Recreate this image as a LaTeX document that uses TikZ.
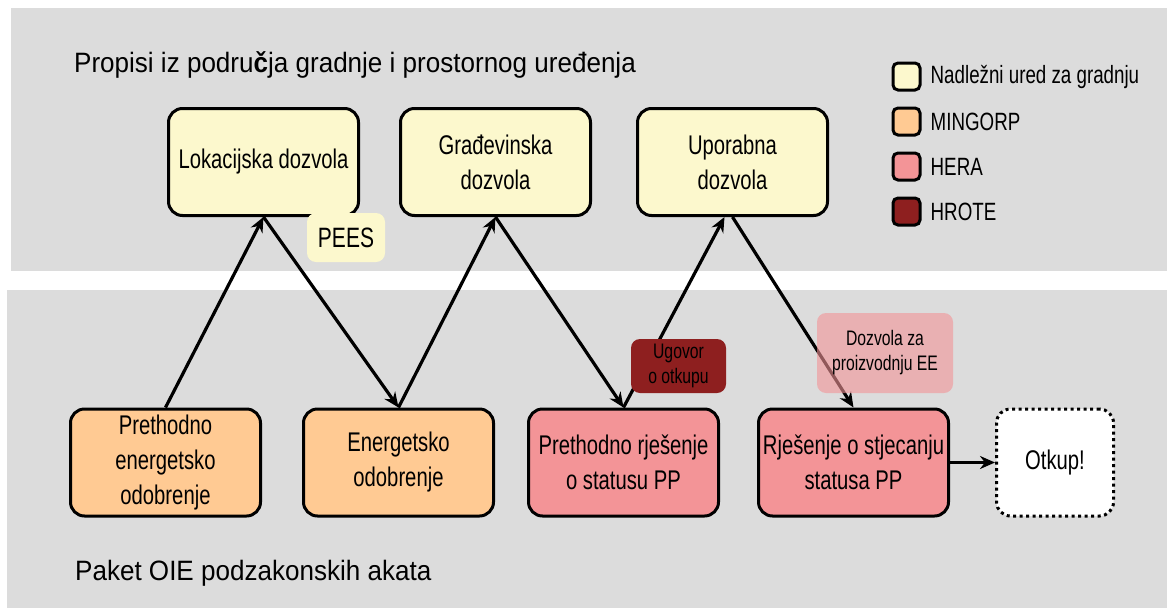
\documentclass[tikz,border=0pt]{standalone}
\usepackage{fontspec}
\setmainfont{Liberation Sans}
\newfontfamily\narrowsf[FakeStretch=0.75]{Liberation Sans}
\newfontfamily\titlesf[FakeStretch=0.93]{Liberation Sans}
\usetikzlibrary{positioning,arrows.meta}
\definecolor{bandgray}{HTML}{DCDCDC}
\definecolor{uredyellow}{HTML}{FCF8CD}
\definecolor{mingorp}{HTML}{FFCA93}
\definecolor{hera}{HTML}{F39497}
\definecolor{hrote}{HTML}{8E1F1F}

\begin{document}
\begin{tikzpicture}[x=1pt,y=-1pt,
  b/.style={draw=black,line width=3pt,rounded corners=14pt,minimum width=190pt,
            minimum height=107pt,align=center,inner sep=2pt,
            font=\narrowsf\fontsize{27}{35}\selectfont},
  tag/.style={rounded corners=9pt,align=center,inner sep=0pt,
              font=\narrowsf\fontsize{21}{25}\selectfont},
  lg/.style={draw=black,line width=3pt,rounded corners=5pt,minimum size=27pt,inner sep=0pt},
  lgt/.style={anchor=west,inner sep=0pt,font=\narrowsf\fontsize{25}{30}\selectfont},
  a/.style={-{Stealth[length=15pt,width=13pt]},line width=3.2pt}]
\useasboundingbox (0,0) rectangle (1167,608);
\fill[bandgray] (11,8) rectangle (1167,271);
\fill[bandgray] (7,290) rectangle (1167,608);
\node[anchor=base west,inner sep=0pt,font=\titlesf\fontsize{28}{34}\selectfont] (topttl) at (74,72)
  {Propisi iz podru\textbf{č}ja gradnje i prostornog uređenja};
\node[anchor=base west,inner sep=0pt,font=\titlesf\fontsize{28}{34}\selectfont] (botttl) at (75,580)
  {Paket OIE podzakonskih akata};
% gornji red
\node[b,fill=uredyellow] (lok) at (263.5,162) {Lokacijska dozvola};
\node[b,fill=uredyellow,right=39pt of lok] (grad) {Građevinska\\dozvola};
\node[b,fill=uredyellow,right=44pt of grad] (upor) {Uporabna\\dozvola};
% donji red
\node[b,fill=mingorp] (pret) at (165.5,462.5) {Prethodno\\energetsko\\odobrenje};
\node[b,fill=mingorp,right=40pt of pret] (energ) {Energetsko\\odobrenje};
\node[b,fill=hera,right=32pt of energ] (prs) {Prethodno rješenje\\o statusu PP};
\node[b,fill=hera,right=37pt of prs] (rss) {Rješenje o stjecanju\\statusa PP};
\node[b,fill=white,dash pattern=on 3pt off 3.5pt,minimum width=117pt,right=45pt of rss] (otkup) {Otkup!};
\draw[a] (pret.north)--(lok.south);
\draw[a] (lok.south)--(energ.north);
\draw[a] (energ.north)--(grad.south);
\draw[a] (grad.south)--(prs.north);
\draw[a] (prs.north)--([xshift=-8pt]upor.south);
\draw[a] (upor.south)--(rss.north);
\draw[a] (rss)--(otkup);
\node[tag,fill=uredyellow,minimum width=78pt,minimum height=49pt,
      font=\narrowsf\fontsize{28}{34}\selectfont] (pees) at (346,237.5) {PEES};
\node[tag,fill=hrote,minimum width=95pt,minimum height=54pt] (ugovor) at (678.5,366) {Ugovor\\o otkupu};
\node[tag,fill=hera,fill opacity=0.6,text opacity=1,minimum width=136pt,minimum height=80pt]
  (dozee) at (885,353) {Dozvola za\\proizvodnju EE};
% legenda
\foreach \c/\t [count=\i] in {uredyellow/Nadležni ured za gradnju,mingorp/MINGORP,hera/HERA,hrote/HROTE} {
  \node[lg,fill=\c] (leg\i) at (906.5,31.5+45*\i) {};
  \node[lgt,right=9pt of leg\i] (legt\i) {\t};
}
\end{tikzpicture}
\end{document}
